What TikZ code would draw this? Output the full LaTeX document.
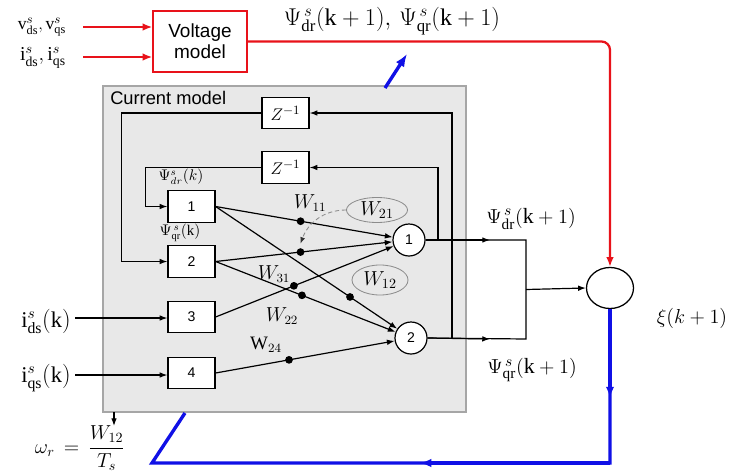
\documentclass[tikz,border=0pt]{standalone}
\usepackage{amsmath}
\usepackage{fontspec}
\setmainfont{Liberation Serif}
\setsansfont{Liberation Sans}
\usetikzlibrary{arrows.meta,positioning,calc,shapes.geometric}
\definecolor{vmRed}{HTML}{E8121A}
\definecolor{fbBlue}{HTML}{1010E6}
\definecolor{panelGray}{HTML}{E8E8E8}
\definecolor{panelEdge}{HTML}{A6A6A6}
\definecolor{tagGray}{HTML}{8C8C8C}

\begin{document}
\begin{tikzpicture}[x=0.025cm,y=-0.025cm,>={Latex[length=5.5pt,width=4pt]},line width=0.85pt,
  unit/.style={draw,fill=white,minimum width=1.175cm,minimum height=0.78cm,inner sep=0pt,font=\sffamily\fontsize{10}{12}\selectfont},
  neuron/.style={draw,circle,fill=white,minimum size=0.8cm,inner sep=0pt,font=\sffamily\fontsize{10}{12}\selectfont},
  wdot/.style={circle,fill=black,inner sep=0pt,minimum size=5.5pt},
  wtag/.style={draw=tagGray,ellipse,line width=0.6pt,inner sep=0pt,font=\fontsize{14}{16}\selectfont},
  wlab/.style={font=\fontsize{13.5}{15}\selectfont},
  redline/.style={vmRed,line width=1.6pt},
  blueline/.style={fbBlue,line width=2.4pt},
  bigtip/.style={-{Latex[length=7pt,width=5.5pt]}}]
\useasboundingbox (0,0) rectangle (731,475);
% current model : grey panel
\path[draw=panelEdge,fill=panelGray,line width=0.9pt] (103,86) rectangle (466,412);
\node[anchor=west,font=\sffamily\fontsize{13}{15}\selectfont] (cmlab) at (105,98) {Current model};
% voltage model
\node[draw=vmRed,fill=white,line width=0.9pt,minimum width=2.35cm,minimum height=1.525cm,align=center,
  font=\sffamily\fontsize{13.5}{15}\selectfont] (vm) at (200,41.5) {Voltage\\model};
\node[font=\fontsize{12.5}{14}\selectfont] (vin) at (42,27) {$\mathrm{v}^{s}_{\mathrm{ds}},\mathrm{v}^{s}_{\mathrm{qs}}$};
\node[font=\fontsize{14}{16}\selectfont] (iin) at (43,58) {$\mathrm{i}^{s}_{\mathrm{ds}},\mathrm{i}^{s}_{\mathrm{qs}}$};
\coordinate (vinE) at (83,27);
\coordinate (iinE) at (83,57);
\draw[redline,bigtip] (vinE) -- (vinE -| vm.west);
\draw[redline,bigtip] (iinE) -- (iinE -| vm.west);
% error node
\node[draw,ellipse,fill=white,minimum width=1.175cm,minimum height=1.025cm,line width=0.9pt] (xi) at (610,288) {};
\node[font=\fontsize{15}{17}\selectfont] (xilab) at (692,318) {$\xi(k+1)$};
\draw[redline,bigtip,rounded corners=6pt] (vm.east) -| (xi.north);
\node[font=\fontsize{17}{19}\selectfont] (psitop) at (392,21) {$\Psi^{\,s}_{\mathrm{dr}}(\mathrm{k}+1),\,\Psi^{\,s}_{\mathrm{qr}}(\mathrm{k}+1)$};
\coordinate (upA) at (385,88);
\coordinate (upB) at (407,54);
\draw[blueline,-{Latex[length=9pt,width=7pt]}] (upA) -- (upB);
% delay blocks
\node[unit,font=\fontsize{13}{15}\selectfont] (z1) at (285.5,113) {$Z^{-1}$};
\node[unit,font=\fontsize{13}{15}\selectfont] (z2) at (285.5,167.5) {$Z^{-1}$};
% input units
\node[unit] (u1) at (191.5,206.5) {1};
\node[unit] (u2) at (191.5,261.5) {2};
\node[unit] (u3) at (191.5,317) {3};
\node[unit] (u4) at (191.5,373) {4};
\node[font=\fontsize{10.5}{12}\selectfont] (psidk) at (181,177) {$\Psi^{s}_{dr}(k)$};
\node[font=\fontsize{10.5}{12}\selectfont] (psiqk) at (180,233) {$\Psi^{\,s}_{\mathrm{qr}}(\mathrm{k})$};
\node[font=\fontsize{16}{18}\selectfont] (ids) at (46,321) {$\mathrm{i}^{s}_{\mathrm{ds}}(\mathrm{k})$};
\node[font=\fontsize{16}{18}\selectfont] (iqs) at (46,378) {$\mathrm{i}^{s}_{\mathrm{qs}}(\mathrm{k})$};
\coordinate (idsE) at (75,318);
\coordinate (iqsE) at (75,375);
\draw[->] (idsE) -- (idsE -| u3.west);
\draw[->] (iqsE) -- (iqsE -| u4.west);
% output neurons
\node[neuron] (n1) at (409,240) {1};
\node[neuron] (n2) at (411,338) {2};
% weighted links
\draw[->] (u1.east) -- node[wdot,pos=0.48] (d11) {} (n1);
\draw[->] (u1.east) -- node[wdot,pos=0.74] (d12) {} (n2);
\draw[->] (u2.east) -- node[wdot,pos=0.48] (d21) {} (n1);
\draw[->] (u2.east) -- node[wdot,pos=0.48] (d22) {} (n2);
\draw[->] (u3.east) -- node[wdot,pos=0.44] (d31) {} (n1);
\draw[->] (u4.east) -- node[wdot,pos=0.41] (d24) {} (n2);
\node[wlab] (w11) at (310,203) {$W_{11}$};
\node[wlab] (w31) at (274,274) {$W_{31}$};
\node[wlab] (w22) at (282,316) {$W_{22}$};
\node[wlab] (w24) at (266,345) {$\mathrm{W}_{24}$};
\node[wtag,minimum width=1.525cm,minimum height=0.625cm] (t21) at (377,210) {$W_{21}$};
\node[wtag,minimum width=1.4cm,minimum height=0.75cm] (t12) at (380,280) {$W_{12}$};
\draw[tagGray,densely dashed,line width=0.6pt,-{Latex[length=4.5pt,width=3.5pt,black!80]}] (t21.west) to[out=180,in=70] ([shift={(0,-4)}]d21.north);
% recurrent feedback
\coordinate (tap1) at (438,240);
\coordinate (tap2) at (452,339);
\draw[->] (tap1) |- (z2.east);
\draw[->] (tap2) |- (z1.east);
\draw[->] (z1.west) -| ($(u2.west)+(-46,0)$) -- (u2.west);
\draw[->] (z2.west) -| ($(u1.west)+(-22,0)$) -- (u1.west);
% flux estimates to comparator
\coordinate (o1) at (526,240);
\coordinate (o2) at (526,339);
\coordinate (join) at ($(o1)!0.5!(o2)$);
\draw (n1.east) -- (o1) -- (o2) -- (n2.east);
\draw[->] (n1.east) -- (490,240);
\draw[->] (n2.east) -- (490,339);
\draw[->] (join) -- (xi.west);
\node[font=\fontsize{15.5}{17}\selectfont] (psid1) at (531,219) {$\Psi^{\,s}_{\mathrm{dr}}(\mathrm{k}+1)$};
\node[font=\fontsize{15.5}{17}\selectfont] (psiq1) at (532,370) {$\Psi^{\,s}_{\mathrm{qr}}(\mathrm{k}+1)$};
% adaptation loop
\coordinate (fbR) at (610,463);
\coordinate (fbL) at (152,463);
\coordinate (fbE) at (185,413);
\draw[blueline,line join=miter] (xi.south) -- (fbR) -- (fbL) -- (fbE);
\draw[blueline,-{Latex[length=8pt,width=6pt]}] (xi.south) -- (610,398);
\draw[blueline,-{Latex[length=8pt,width=6pt]}] (fbR) -- (420,463);
% speed estimate
\node[font=\fontsize{14}{16}\selectfont] (omega) at (80,448) {$\omega_r\,=\,\dfrac{W_{12}}{T_s}$};
\coordinate (wout) at (114,412);
\draw[->] (wout) -- (114,426);
\end{tikzpicture}
\end{document}
